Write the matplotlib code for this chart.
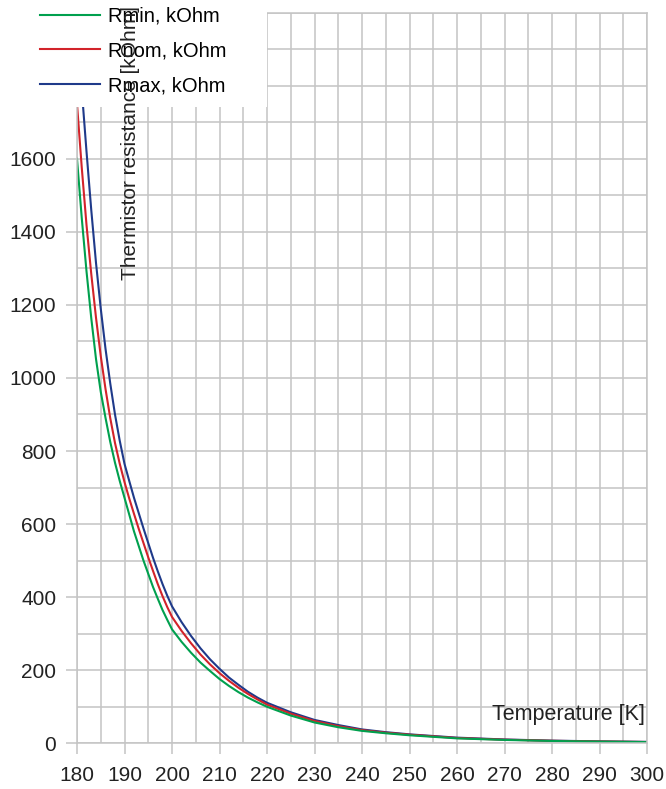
import matplotlib
matplotlib.use("Agg")
import matplotlib.pyplot as plt
from matplotlib.patches import Rectangle
from matplotlib.ticker import MultipleLocator

plt.rcParams['font.family'] = ['Liberation Sans', 'DejaVu Sans']

# temperature [K] and thermistor resistance [kOhm]
temps = [180, 181, 182, 183, 184, 185, 186, 187, 188, 189,
         190, 191, 192, 193, 194, 195, 196, 197, 198, 199,
         200, 202, 204, 206, 208, 210, 212, 214, 216, 218,
         220, 225, 230, 235, 240, 245, 250, 260, 270, 280, 290, 300]
r_min = [1600, 1438, 1292, 1164, 1052, 962, 891, 825, 768, 718,
         672, 626, 580, 540, 500, 464, 428, 396, 365, 338,
         312, 278, 248, 221, 198, 176, 157, 140, 125, 112,
         100, 76, 57, 44, 34, 27.5, 22, 13.5, 9.2, 6.4, 4.6, 3.3]
r_nom = [1750, 1576, 1419, 1285, 1165, 1060, 970, 890, 822, 765,
         715, 670, 628, 587, 548, 509, 472, 436, 403, 373,
         346, 308, 274, 243, 216, 192, 171, 152, 135, 120,
         106, 81, 61, 47, 36, 29, 23.5, 14.5, 9.9, 6.9, 4.95, 3.6]
r_max = [1980, 1790, 1620, 1460, 1315, 1190, 1080, 985, 900, 828,
         765, 718, 672, 630, 588, 548, 508, 471, 436, 404,
         375, 332, 294, 260, 230, 204, 180, 160, 141, 125,
         111, 85, 64, 50, 38, 30.5, 24.5, 15.5, 10.5, 7.3, 5.3, 3.9]

labels = ['Rmin, kOhm', 'Rnom, kOhm', 'Rmax, kOhm']
colors = ['#00a04e', '#d2232a', '#1f3a8a']

W, H = 666, 789
fig = plt.figure(figsize=(W / 100, H / 100), dpi=100)
ax = fig.add_axes([77 / W, 1 - 743.3 / H, (647 - 77) / W, (743.3 - 12.6) / H])

grid_c = '#c4c4c4'
l_max, = ax.plot(temps, r_max, color=colors[2], lw=1.5)
l_nom, = ax.plot(temps, r_nom, color=colors[1], lw=1.5)
l_min, = ax.plot(temps, r_min, color=colors[0], lw=1.5)

ax.set_xlim(180, 300)
ax.set_ylim(0, 2000)
ax.xaxis.set_major_locator(MultipleLocator(10))
ax.xaxis.set_minor_locator(MultipleLocator(5))
ax.yaxis.set_major_locator(MultipleLocator(200))
ax.yaxis.set_minor_locator(MultipleLocator(100))
ax.grid(True, which='both', color=grid_c, lw=1.1)
ax.set_axisbelow(True)
for s in ax.spines.values():
    s.set_color(grid_c)
    s.set_linewidth(1.1)
ax.tick_params(which='major', labelsize=15, colors=grid_c, labelcolor='#222222', width=1.1)
ax.tick_params(axis='x', which='major', length=8, pad=8)
ax.tick_params(axis='y', which='major', length=8, pad=7)
ax.tick_params(which='minor', length=0)

ax.text(0.997, 0.04, 'Temperature [K]', transform=ax.transAxes, ha='right', va='center',
        fontsize=15.5, color='#222222')

# white block behind the legend, as in the reference
fig.add_artist(Rectangle((0, 1 - 107 / H), 267 / W, 107 / H, transform=fig.transFigure,
                         facecolor='white', edgecolor='none', zorder=4))
fig.legend([l_min, l_nom, l_max], labels, loc='upper left',
           bbox_to_anchor=(40 / W, 1 - 7 / H), frameon=False, fontsize=14.5,
           borderpad=0, borderaxespad=0, handlelength=3.0, handletextpad=0.4,
           labelspacing=0.77)

fig.text(130 / W, 1 - 143 / H, 'Thermistor resistance [kOhm]', rotation=90,
         ha='center', va='center', fontsize=15, color='#222222', zorder=10)

fig.savefig('out.png', dpi=100)
